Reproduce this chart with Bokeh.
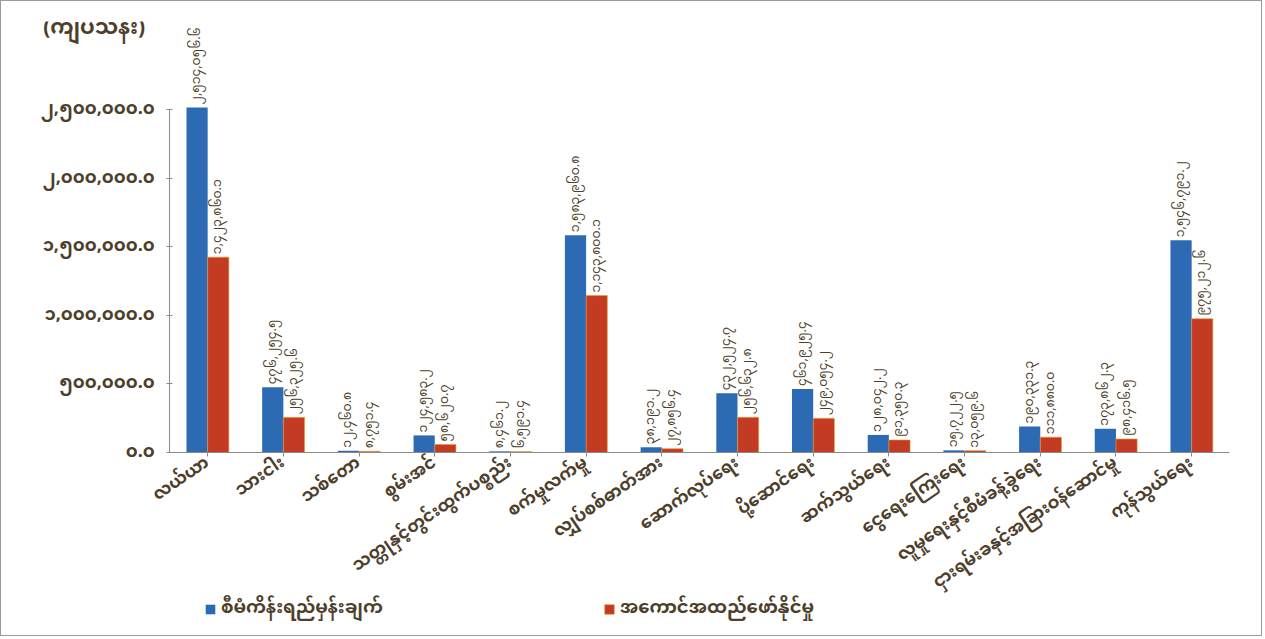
import math
from bokeh.plotting import figure
from bokeh.models import (ColumnDataSource, FixedTicker, Range1d, Legend, LegendItem, Label)
from bokeh.transform import dodge
from bokeh.core.properties import value
from bokeh.embed import file_html
from bokeh.resources import INLINE

categories = ["လယ်ယာ", "သားငါး", "သစ်တော", "စွမ်းအင်", "သတ္တုနှင့်တွင်းထွက်ပစ္စည်း",
              "စက်မှုလက်မှု", "လျှပ်စစ်ဓာတ်အား", "ဆောက်လုပ်ရေး", "ပို့ဆောင်ရေး",
              "ဆက်သွယ်ရေး", "ငွေရေးကြေးရေး", "လူမှုရေးနှင့်စီမံခန့်ခွဲရေး",
              "ငှားရမ်းခနှင့်အခြားဝန်ဆောင်မှု", "ကုန်သွယ်ရေး"]
plan = [2514056.6, 476254.5, 12460.8, 124583.2, 8461.2, 1583960.8, 38191.2,
        432524.7, 461925.4, 128042.2, 15722.5, 190331.3, 173862.3, 1546791.2]
actual = [1423860.1, 256325.6, 8751.4, 58620.7, 6591.4, 1143800.1, 27856.4,
          256632.8, 249054.2, 91350.3, 13059.6, 111880.0, 98416.5, 975212.6]
series_names = ["စီမံကိန်းရည်မှန်းချက်", "အကောင်အထည်ဖော်နိုင်မှု"]
y_ticks = [0, 500000, 1000000, 1500000, 2000000, 2500000]
y_title = "(ကျပ်သန်း)"

MM = str.maketrans("0123456789", "၀၁၂၃၄၅၆၇၈၉")
def mm(v):
    return f"{v:,.1f}".translate(MM)

FONT = "Noto Sans Myanmar, Padauk, Myanmar Text, Noto Sans"
TXT = "#4e3f2c"
BLUE = "#2c6bb3"
RED = "#c23b22"

xi = list(range(len(categories)))
src = ColumnDataSource(dict(xi=xi, cat=categories, plan=plan, actual=actual,
                            plan_lbl=[mm(v) for v in plan],
                            actual_lbl=[mm(v) for v in actual]))

n = len(categories)
# frame covers the whole chart area; axes sit at fixed positions inside it
p = figure(x_range=Range1d(-2.671, n - 0.5), y_range=Range1d(-1319000, 3141000),
           width=1262, height=636, output_backend="svg", toolbar_location=None,
           min_border_left=4, min_border_right=34, min_border_top=20, min_border_bottom=4)
p.styles = {"border": "1px solid #9a9a9a", "box-sizing": "border-box"}
p.background_fill_color = "white"
p.outline_line_color = None
p.xgrid.grid_line_color = None
p.ygrid.grid_line_color = None

r1 = p.vbar(x=dodge("xi", -0.14), top="plan", width=0.28, source=src,
            fill_color=BLUE, line_color=None)
r2 = p.vbar(x=dodge("xi", 0.14), top="actual", width=0.28, source=src,
            fill_color=RED, line_color="#e0a030", line_width=0.6)

p.text(x=dodge("xi", -0.14), y="plan", text="plan_lbl", source=src,
       angle=math.pi / 2, text_align="left", text_baseline="middle", y_offset=-3,
       text_font=value(FONT), text_font_size="12.5px", text_color=TXT)
p.text(x=dodge("xi", 0.14), y="actual", text="actual_lbl", source=src,
       angle=math.pi / 2, text_align="left", text_baseline="middle", y_offset=-3,
       text_font=value(FONT), text_font_size="12.5px", text_color=TXT)

ya = p.yaxis[0]
ya.fixed_location = -0.5
ya.ticker = FixedTicker(ticks=y_ticks)
ya.major_label_overrides = {t: mm(t) for t in y_ticks}
ya.bounds = (0, 2500000)
ya.minor_tick_line_color = None
ya.major_label_text_font = FONT
ya.major_label_text_font_size = "18px"
ya.major_label_text_font_style = "bold"
ya.major_label_text_color = TXT
ya.axis_line_color = "#8a8a8a"
ya.major_tick_line_color = "#8a8a8a"
ya.major_tick_in = 3
ya.major_tick_out = 3
ya.major_label_standoff = 12

xa = p.xaxis[0]
xa.fixed_location = 0
xa.bounds = (-0.5, n - 0.5)
xa.ticker = FixedTicker(ticks=xi)
xa.major_label_overrides = {i: c for i, c in zip(xi, categories)}
xa.minor_tick_line_color = None
xa.major_label_orientation = 0.6
xa.major_label_text_font = FONT
xa.major_label_text_font_size = "17px"
xa.major_label_text_font_style = "bold"
xa.major_label_text_color = TXT
xa.axis_line_color = "#8a8a8a"
xa.major_tick_line_color = "#8a8a8a"
xa.major_tick_in = 0
xa.major_tick_out = 4

p.add_layout(Label(x=-1.5, y=3083000, text=y_title,
                   text_align="center", text_baseline="middle", text_font=FONT,
                   text_font_size="21px", text_font_style="bold", text_color=TXT))

lg = Legend(items=[LegendItem(label=series_names[0], renderers=[r1]),
                   LegendItem(label=series_names[1], renderers=[r2])],
            orientation="horizontal", location=(199, 5), spacing=220,
            background_fill_alpha=0, border_line_color=None, glyph_width=12, glyph_height=12,
            label_text_font=FONT, label_text_font_size="18px", label_text_font_style="bold",
            label_text_color=TXT, padding=4, margin=0)
p.add_layout(lg, "center")

open("out.html", "w").write(file_html(p, INLINE))
